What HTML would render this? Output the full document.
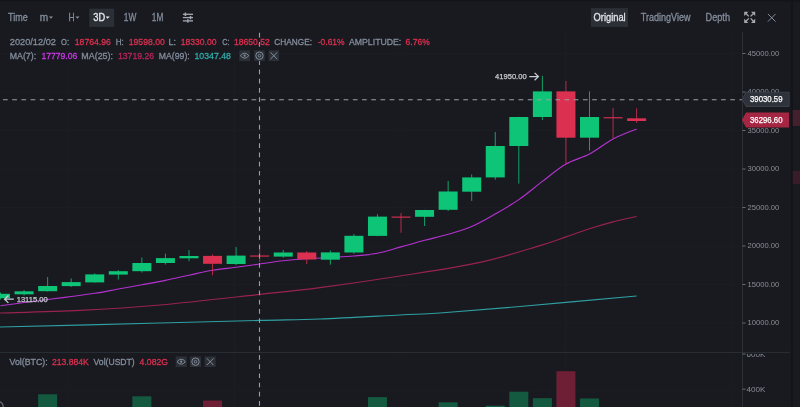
<!DOCTYPE html>
<html><head><meta charset="utf-8">
<style>
html,body{margin:0;padding:0;background:#191a20;width:800px;height:407px;overflow:hidden;}
svg{position:absolute;left:0;top:0;will-change:transform;}
text{font-family:"Liberation Sans",sans-serif;}
.ax{font-size:7.6px;fill:#8a8f98;}
.tb{font-size:10.4px;fill:#848e9c;stroke:#848e9c;stroke-width:0.3px;}
.inf{font-size:9.8px;fill:#848e9c;stroke:#848e9c;stroke-width:0.3px;}
.lb{font-size:8.2px;fill:#ffffff;stroke:#ffffff;stroke-width:0.25px;}
.hl{font-size:7.9px;fill:#c8ccd2;stroke:#c8ccd2;stroke-width:0.25px;}
</style></head><body>
<svg width="800" height="407" viewBox="0 0 800 407">
<rect x="68.50" y="32" width="1" height="375" fill="#1c1d23"/>
<rect x="234.00" y="32" width="1" height="375" fill="#1c1d23"/>
<rect x="399.50" y="32" width="1" height="375" fill="#1c1d23"/>
<rect x="565.00" y="32" width="1" height="375" fill="#1c1d23"/>
<rect x="730.50" y="32" width="1" height="375" fill="#1c1d23"/>
<rect x="0" y="322.50" width="742" height="1" fill="#1c1d23"/>
<rect x="0" y="284.00" width="742" height="1" fill="#1c1d23"/>
<rect x="0" y="245.50" width="742" height="1" fill="#1c1d23"/>
<rect x="0" y="207.00" width="742" height="1" fill="#1c1d23"/>
<rect x="0" y="168.50" width="742" height="1" fill="#1c1d23"/>
<rect x="0" y="130.00" width="742" height="1" fill="#1c1d23"/>
<rect x="0" y="91.50" width="742" height="1" fill="#1c1d23"/>
<rect x="0" y="53.00" width="742" height="1" fill="#1c1d23"/>
<rect x="0" y="390.6" width="742" height="1" fill="#1c1d23"/>
<rect x="38.12" y="394.30" width="19" height="13.70" fill="#145a40"/>
<rect x="132.36" y="396.30" width="19" height="11.70" fill="#145a40"/>
<rect x="203.04" y="400.50" width="19" height="7.50" fill="#6e1f35"/>
<rect x="367.96" y="397.10" width="19" height="10.90" fill="#145a40"/>
<rect x="438.64" y="402.30" width="19" height="5.70" fill="#145a40"/>
<rect x="485.76" y="405.70" width="19" height="2.30" fill="#145a40"/>
<rect x="509.32" y="391.70" width="19" height="16.30" fill="#145a40"/>
<rect x="532.88" y="398.20" width="19" height="9.80" fill="#145a40"/>
<rect x="556.44" y="371.20" width="19" height="36.80" fill="#6e1f35"/>
<rect x="580.00" y="398.50" width="19" height="9.50" fill="#145a40"/>
<path d="M0.00,327.00 C26.67,326.33 116.67,324.10 160.00,323.00 C203.33,321.90 233.33,321.07 260.00,320.40 C286.67,319.73 296.67,319.90 320.00,319.00 C343.33,318.10 380.00,316.00 400.00,315.00 C420.00,314.00 420.00,314.42 440.00,313.00 C460.00,311.58 487.23,309.33 520.00,306.50 C552.77,303.67 617.17,297.75 636.60,296.00" fill="none" stroke="#2e9fa2" stroke-width="1.15"/>
<path d="M0.00,313.00 C13.33,312.57 53.33,311.73 80.00,310.40 C106.67,309.07 130.00,307.67 160.00,305.00 C190.00,302.33 233.33,297.30 260.00,294.40 C286.67,291.50 296.67,290.67 320.00,287.60 C343.33,284.53 373.33,280.20 400.00,276.00 C426.67,271.80 456.67,267.47 480.00,262.40 C503.33,257.33 525.67,249.85 540.00,245.60 C554.33,241.35 557.75,239.71 566.00,236.90 C574.25,234.09 581.67,231.25 589.50,228.75 C597.33,226.25 605.15,223.94 613.00,221.90 C620.85,219.86 632.67,217.40 636.60,216.50" fill="none" stroke="#992250" stroke-width="1.15"/>
<path d="M0.50,305.80 C4.43,305.25 16.21,303.55 24.06,302.50 C31.91,301.45 39.77,300.50 47.62,299.50 C55.47,298.50 63.33,297.53 71.18,296.50 C79.03,295.47 86.89,294.55 94.74,293.30 C102.59,292.05 110.45,290.42 118.30,289.00 C126.15,287.58 134.01,286.23 141.86,284.80 C149.71,283.37 157.57,282.00 165.42,280.40 C173.27,278.80 181.13,276.90 188.98,275.20 C196.83,273.50 204.69,271.52 212.54,270.20 C220.39,268.88 228.25,268.33 236.10,267.30 C243.95,266.27 251.81,265.08 259.66,264.00 C267.51,262.92 275.37,261.67 283.22,260.80 C291.07,259.93 298.93,259.35 306.78,258.80 C314.63,258.25 322.49,257.97 330.34,257.50 C338.19,257.03 346.05,256.70 353.90,256.00 C361.75,255.30 369.61,254.82 377.46,253.30 C385.31,251.78 393.17,249.07 401.02,246.90 C408.87,244.73 416.73,242.40 424.58,240.30 C432.43,238.20 440.29,236.60 448.14,234.30 C455.99,232.00 463.85,229.88 471.70,226.50 C479.55,223.12 487.41,218.48 495.26,214.00 C503.11,209.52 510.97,205.03 518.82,199.60 C526.67,194.17 534.53,187.32 542.38,181.40 C550.23,175.48 558.09,168.67 565.94,164.10 C573.79,159.53 581.65,158.18 589.50,154.00 C597.35,149.82 605.21,143.17 613.06,139.00 C620.91,134.83 632.69,130.67 636.62,129.00" fill="none" stroke="#b432d0" stroke-width="1.15"/>
<rect x="0.00" y="292.50" width="1" height="7.00" fill="#0ec477" fill-opacity="0.8"/>
<rect x="-9.00" y="293.80" width="19" height="4.40" fill="#0ec477"/>
<rect x="23.56" y="290.00" width="1" height="5.50" fill="#0ec477" fill-opacity="0.8"/>
<rect x="14.56" y="291.30" width="19" height="3.00" fill="#0ec477"/>
<rect x="47.12" y="277.00" width="1" height="14.50" fill="#0ec477" fill-opacity="0.8"/>
<rect x="38.12" y="286.00" width="19" height="5.20" fill="#0ec477"/>
<rect x="70.68" y="278.40" width="1" height="8.60" fill="#0ec477" fill-opacity="0.8"/>
<rect x="61.68" y="282.10" width="19" height="4.00" fill="#0ec477"/>
<rect x="94.24" y="273.40" width="1" height="9.20" fill="#0ec477" fill-opacity="0.8"/>
<rect x="85.24" y="274.40" width="19" height="8.00" fill="#0ec477"/>
<rect x="117.80" y="270.00" width="1" height="9.50" fill="#0ec477" fill-opacity="0.8"/>
<rect x="108.80" y="271.20" width="19" height="3.40" fill="#0ec477"/>
<rect x="141.36" y="257.50" width="1" height="15.00" fill="#0ec477" fill-opacity="0.8"/>
<rect x="132.36" y="263.00" width="19" height="8.20" fill="#0ec477"/>
<rect x="164.92" y="253.70" width="1" height="10.80" fill="#0ec477" fill-opacity="0.8"/>
<rect x="155.92" y="258.10" width="19" height="4.90" fill="#0ec477"/>
<rect x="188.48" y="250.00" width="1" height="11.30" fill="#0ec477" fill-opacity="0.8"/>
<rect x="179.48" y="256.00" width="19" height="2.30" fill="#0ec477"/>
<rect x="212.04" y="254.40" width="1" height="20.90" fill="#dc3050" fill-opacity="0.8"/>
<rect x="203.04" y="255.90" width="19" height="7.90" fill="#dc3050"/>
<rect x="235.60" y="247.00" width="1" height="18.00" fill="#0ec477" fill-opacity="0.8"/>
<rect x="226.60" y="255.60" width="19" height="8.40" fill="#0ec477"/>
<rect x="259.16" y="246.00" width="1" height="16.00" fill="#dc3050" fill-opacity="0.8"/>
<rect x="250.16" y="255.35" width="19" height="1.4" fill="#dc3050" fill-opacity="0.8"/>
<rect x="282.72" y="250.00" width="1" height="7.70" fill="#0ec477" fill-opacity="0.8"/>
<rect x="273.72" y="252.50" width="19" height="4.10" fill="#0ec477"/>
<rect x="306.28" y="251.00" width="1" height="13.00" fill="#dc3050" fill-opacity="0.8"/>
<rect x="297.28" y="252.50" width="19" height="7.00" fill="#dc3050"/>
<rect x="329.84" y="250.50" width="1" height="14.20" fill="#0ec477" fill-opacity="0.8"/>
<rect x="320.84" y="252.40" width="19" height="7.30" fill="#0ec477"/>
<rect x="353.40" y="234.00" width="1" height="19.80" fill="#0ec477" fill-opacity="0.8"/>
<rect x="344.40" y="235.80" width="19" height="16.70" fill="#0ec477"/>
<rect x="376.96" y="214.20" width="1" height="22.00" fill="#0ec477" fill-opacity="0.8"/>
<rect x="367.96" y="216.60" width="19" height="19.30" fill="#0ec477"/>
<rect x="400.52" y="213.00" width="1" height="19.70" fill="#dc3050" fill-opacity="0.8"/>
<rect x="391.52" y="216.45" width="19" height="1.4" fill="#dc3050" fill-opacity="0.8"/>
<rect x="424.08" y="209.80" width="1" height="16.20" fill="#0ec477" fill-opacity="0.8"/>
<rect x="415.08" y="210.00" width="19" height="6.80" fill="#0ec477"/>
<rect x="447.64" y="181.00" width="1" height="30.00" fill="#0ec477" fill-opacity="0.8"/>
<rect x="438.64" y="191.50" width="19" height="18.30" fill="#0ec477"/>
<rect x="471.20" y="174.40" width="1" height="26.50" fill="#0ec477" fill-opacity="0.8"/>
<rect x="462.20" y="177.40" width="19" height="14.30" fill="#0ec477"/>
<rect x="494.76" y="132.00" width="1" height="47.70" fill="#0ec477" fill-opacity="0.8"/>
<rect x="485.76" y="146.00" width="19" height="31.40" fill="#0ec477"/>
<rect x="518.32" y="116.80" width="1" height="66.80" fill="#0ec477" fill-opacity="0.8"/>
<rect x="509.32" y="117.00" width="19" height="29.00" fill="#0ec477"/>
<rect x="541.88" y="75.80" width="1" height="44.20" fill="#0ec477" fill-opacity="0.8"/>
<rect x="532.88" y="91.40" width="19" height="25.60" fill="#0ec477"/>
<rect x="565.44" y="81.00" width="1" height="83.50" fill="#dc3050" fill-opacity="0.8"/>
<rect x="556.44" y="91.40" width="19" height="46.30" fill="#dc3050"/>
<rect x="589.00" y="91.40" width="1" height="59.20" fill="#0ec477" fill-opacity="0.8"/>
<rect x="580.00" y="117.00" width="19" height="20.70" fill="#0ec477"/>
<rect x="612.56" y="107.90" width="1" height="30.70" fill="#dc3050" fill-opacity="0.8"/>
<rect x="603.56" y="117.00" width="19" height="1.4" fill="#dc3050" fill-opacity="0.8"/>
<rect x="636.12" y="108.30" width="1" height="14.70" fill="#dc3050" fill-opacity="0.8"/>
<rect x="627.12" y="118.30" width="19" height="2.70" fill="#dc3050"/>
<rect x="0" y="351.9" width="790" height="1" fill="#2b2f36"/>
<path d="M3,99.8 L742,99.8" stroke="#9a9ea6" stroke-width="1.1" stroke-dasharray="4.7 4.506"/>
<path d="M259.5,32.8 L259.5,407" stroke="#9a9ea6" stroke-width="1.1" stroke-dasharray="4.7 4.506"/>
<rect x="742" y="32" width="1" height="375" fill="#2b2f36"/>
<rect x="742.5" y="322.60" width="3" height="0.8" fill="#7d828b"/>
<text x="747.6" y="325.30" class="ax" textLength="31.7" lengthAdjust="spacingAndGlyphs">10000.00</text>
<rect x="742.5" y="284.10" width="3" height="0.8" fill="#7d828b"/>
<text x="747.6" y="286.80" class="ax" textLength="31.7" lengthAdjust="spacingAndGlyphs">15000.00</text>
<rect x="742.5" y="245.60" width="3" height="0.8" fill="#7d828b"/>
<text x="747.6" y="248.30" class="ax" textLength="31.7" lengthAdjust="spacingAndGlyphs">20000.00</text>
<rect x="742.5" y="207.10" width="3" height="0.8" fill="#7d828b"/>
<text x="747.6" y="209.80" class="ax" textLength="31.7" lengthAdjust="spacingAndGlyphs">25000.00</text>
<rect x="742.5" y="168.60" width="3" height="0.8" fill="#7d828b"/>
<text x="747.6" y="171.30" class="ax" textLength="31.7" lengthAdjust="spacingAndGlyphs">30000.00</text>
<rect x="742.5" y="130.10" width="3" height="0.8" fill="#7d828b"/>
<text x="747.6" y="132.80" class="ax" textLength="31.7" lengthAdjust="spacingAndGlyphs">35000.00</text>
<rect x="742.5" y="91.60" width="3" height="0.8" fill="#7d828b"/>
<text x="747.6" y="94.30" class="ax" textLength="31.7" lengthAdjust="spacingAndGlyphs">40000.00</text>
<rect x="742.5" y="53.10" width="3" height="0.8" fill="#7d828b"/>
<text x="747.6" y="55.80" class="ax" textLength="31.7" lengthAdjust="spacingAndGlyphs">45000.00</text>
<rect x="742.5" y="353.6" width="3" height="0.8" fill="#7d828b"/>
<rect x="742.5" y="388.7" width="3" height="0.8" fill="#7d828b"/>
<text x="746.5" y="392.2" class="ax" textLength="18.9" lengthAdjust="spacingAndGlyphs">400K</text>
<svg x="0" y="353.9" width="800" height="60" overflow="hidden"><text x="746.5" y="2.9" class="ax" textLength="18.9" lengthAdjust="spacingAndGlyphs">600K</text></svg>
<rect x="0" y="0" width="800" height="1.5" fill="#131418"/>
<rect x="89.3" y="8.6" width="24.9" height="18.3" fill="#2b2f36"/>
<rect x="590.9" y="8.1" width="37.1" height="18.8" fill="#2b2f36"/>
<text x="8.10" y="21.00" class="tb" textLength="19.65" lengthAdjust="spacingAndGlyphs">Time</text>
<text x="39.75" y="21.00" class="tb" textLength="8.45" lengthAdjust="spacingAndGlyphs">m</text>
<path d="M48.90,16.40 L53.00,16.40 L50.95,18.80 Z" fill="#848e9c"/>
<text x="68.50" y="21.00" class="tb" textLength="6.10" lengthAdjust="spacingAndGlyphs">H</text>
<path d="M75.40,16.40 L79.50,16.40 L77.45,18.80 Z" fill="#848e9c"/>
<text x="93.30" y="21.00" class="tb" style="fill:#eaecef;stroke:#eaecef" textLength="11.90" lengthAdjust="spacingAndGlyphs">3D</text>
<path d="M105.60,16.40 L109.70,16.40 L107.65,18.80 Z" fill="#eaecef"/>
<text x="123.80" y="21.00" class="tb" textLength="12.50" lengthAdjust="spacingAndGlyphs">1W</text>
<text x="151.80" y="21.00" class="tb" textLength="11.50" lengthAdjust="spacingAndGlyphs">1M</text>
<rect x="182.9" y="13.65" width="10.1" height="1.3" fill="#a2a7af"/>
<rect x="184.65" y="12.60" width="1.5" height="3.4" fill="#a2a7af"/>
<rect x="182.9" y="16.95" width="10.1" height="1.3" fill="#a2a7af"/>
<rect x="189.75" y="15.90" width="1.5" height="3.4" fill="#a2a7af"/>
<rect x="182.9" y="20.25" width="10.1" height="1.3" fill="#a2a7af"/>
<rect x="187.05" y="19.20" width="1.5" height="3.4" fill="#a2a7af"/>
<text x="593.50" y="21.00" class="tb" style="fill:#e2e4e8;stroke:#e2e4e8" textLength="32.20" lengthAdjust="spacingAndGlyphs">Original</text>
<text x="640.80" y="21.00" class="tb" textLength="49.70" lengthAdjust="spacingAndGlyphs">TradingView</text>
<text x="705.50" y="21.00" class="tb" textLength="24.50" lengthAdjust="spacingAndGlyphs">Depth</text>
<g fill="#a4a9b1" stroke="#a4a9b1" stroke-width="1.3">
<path d="M745.70,13.30 L748.80,16.40" fill="none"/>
<path d="M744.20,11.80 L748.40,11.80 L744.20,16.00 Z" stroke="none"/>
<path d="M753.70,13.30 L750.60,16.40" fill="none"/>
<path d="M755.20,11.80 L751.00,11.80 L755.20,16.00 Z" stroke="none"/>
<path d="M745.70,21.50 L748.80,18.40" fill="none"/>
<path d="M744.20,23.00 L748.40,23.00 L744.20,18.80 Z" stroke="none"/>
<path d="M753.70,21.50 L750.60,18.40" fill="none"/>
<path d="M755.20,23.00 L751.00,23.00 L755.20,18.80 Z" stroke="none"/>
</g>
<path d="M767.9,13.9 L775.6,21.6 M775.6,13.9 L767.9,21.6" stroke="#848e9c" stroke-width="1" fill="none"/>
<rect x="790.9" y="0" width="2" height="407" fill="#131419"/>
<path d="M3.2,407 A5,5 0 0 0 -2,401.6" fill="none" stroke="#6b7079" stroke-width="1.2"/>
<rect x="792.7" y="110" width="7.3" height="16" fill="#43202c"/>
<rect x="792.7" y="171" width="7.3" height="13" fill="#381d28"/>
<text x="9.75" y="45.40" class="inf" textLength="46.25" lengthAdjust="spacingAndGlyphs">2020/12/02</text>
<text x="61.00" y="45.40" class="inf" textLength="8.00" lengthAdjust="spacingAndGlyphs">O:</text>
<text x="74.80" y="45.40" class="inf" style="fill:#dc3050;stroke:#dc3050" textLength="36.10" lengthAdjust="spacingAndGlyphs">18764.96</text>
<text x="115.70" y="45.40" class="inf" textLength="8.10" lengthAdjust="spacingAndGlyphs">H:</text>
<text x="128.70" y="45.40" class="inf" style="fill:#dc3050;stroke:#dc3050" textLength="36.10" lengthAdjust="spacingAndGlyphs">19598.00</text>
<text x="168.50" y="45.40" class="inf" textLength="7.40" lengthAdjust="spacingAndGlyphs">L:</text>
<text x="180.70" y="45.40" class="inf" style="fill:#dc3050;stroke:#dc3050" textLength="35.80" lengthAdjust="spacingAndGlyphs">18330.00</text>
<text x="222.20" y="45.40" class="inf" textLength="7.30" lengthAdjust="spacingAndGlyphs">C:</text>
<text x="234.00" y="45.40" class="inf" style="fill:#dc3050;stroke:#dc3050" textLength="35.80" lengthAdjust="spacingAndGlyphs">18650.52</text>
<text x="274.20" y="45.40" class="inf" textLength="37.80" lengthAdjust="spacingAndGlyphs">CHANGE:</text>
<text x="317.80" y="45.40" class="inf" style="fill:#dc3050;stroke:#dc3050" textLength="26.80" lengthAdjust="spacingAndGlyphs">-0.61%</text>
<text x="349.00" y="45.40" class="inf" textLength="52.25" lengthAdjust="spacingAndGlyphs">AMPLITUDE:</text>
<text x="405.60" y="45.40" class="inf" style="fill:#dc3050;stroke:#dc3050" textLength="24.15" lengthAdjust="spacingAndGlyphs">6.76%</text>
<text x="9.75" y="58.50" class="inf" textLength="26.35" lengthAdjust="spacingAndGlyphs">MA(7):</text>
<text x="41.50" y="58.50" class="inf" style="fill:#cf35ea;stroke:#cf35ea" textLength="35.70" lengthAdjust="spacingAndGlyphs">17779.06</text>
<text x="81.30" y="58.50" class="inf" textLength="31.70" lengthAdjust="spacingAndGlyphs">MA(25):</text>
<text x="118.00" y="58.50" class="inf" style="fill:#b8245a;stroke:#b8245a" textLength="36.00" lengthAdjust="spacingAndGlyphs">13719.26</text>
<text x="158.80" y="58.50" class="inf" textLength="30.90" lengthAdjust="spacingAndGlyphs">MA(99):</text>
<text x="194.50" y="58.50" class="inf" style="fill:#30aaa8;stroke:#30aaa8" textLength="36.50" lengthAdjust="spacingAndGlyphs">10347.48</text>
<rect x="239.20" y="50.30" width="10.80" height="10.80" fill="#2b2f36"/>
<path d="M240.40,55.70 Q244.60,50.70 248.80,55.70 Q244.60,60.70 240.40,55.70 Z" fill="none" stroke="#848e9c" stroke-width="1"/>
<circle cx="244.60" cy="55.70" r="1.1" fill="#848e9c"/>
<rect x="254.20" y="50.30" width="10.50" height="10.80" fill="#2b2f36"/>
<circle cx="259.45" cy="55.70" r="3.7" fill="none" stroke="#848e9c" stroke-width="1"/>
<circle cx="259.45" cy="55.70" r="1.3" fill="none" stroke="#848e9c" stroke-width="0.9"/>
<rect x="268.60" y="50.30" width="10.50" height="10.80" fill="#2b2f36"/>
<path d="M270.45,52.30 L277.25,59.10 M277.25,52.30 L270.45,59.10" stroke="#848e9c" stroke-width="1" fill="none"/>
<text x="9.50" y="365.20" class="inf" textLength="38.20" lengthAdjust="spacingAndGlyphs">Vol(BTC):</text>
<text x="51.90" y="365.20" class="inf" style="fill:#dc3050;stroke:#dc3050" textLength="37.00" lengthAdjust="spacingAndGlyphs">213.884K</text>
<text x="93.60" y="365.20" class="inf" textLength="41.10" lengthAdjust="spacingAndGlyphs">Vol(USDT)</text>
<text x="139.60" y="365.20" class="inf" style="fill:#dc3050;stroke:#dc3050" textLength="28.40" lengthAdjust="spacingAndGlyphs">4.082G</text>
<rect x="175.70" y="356.40" width="11.00" height="10.60" fill="#2b2f36"/>
<path d="M177.00,361.70 Q181.20,356.70 185.40,361.70 Q181.20,366.70 177.00,361.70 Z" fill="none" stroke="#848e9c" stroke-width="1"/>
<circle cx="181.20" cy="361.70" r="1.1" fill="#848e9c"/>
<rect x="190.00" y="356.40" width="11.00" height="10.60" fill="#2b2f36"/>
<circle cx="195.50" cy="361.70" r="3.7" fill="none" stroke="#848e9c" stroke-width="1"/>
<circle cx="195.50" cy="361.70" r="1.3" fill="none" stroke="#848e9c" stroke-width="0.9"/>
<rect x="204.60" y="356.40" width="11.10" height="10.60" fill="#2b2f36"/>
<path d="M206.75,358.30 L213.55,365.10 M213.55,358.30 L206.75,365.10" stroke="#848e9c" stroke-width="1" fill="none"/>
<path d="M742.2,99.3 L746,92.2 L789.1,92.2 L789.1,106.5 L746,106.5 Z" fill="#2e323a" stroke="#41464f" stroke-width="0.8"/>
<text x="750" y="101.8" class="lb" textLength="32.5" lengthAdjust="spacingAndGlyphs">39030.59</text>
<path d="M741.9,120.1 L746,112.6 L789.1,112.6 L789.1,127.5 L746,127.5 Z" fill="#a52642"/>
<text x="750" y="122.8" class="lb" textLength="32.5" lengthAdjust="spacingAndGlyphs">36296.60</text>
<text x="495.1" y="78.9" class="hl" textLength="31.5" lengthAdjust="spacingAndGlyphs">41950.00</text>
<path d="M529.3,76.6 L537.8,76.6 M534.6,72.9 L538.4,76.6 L534.6,80.3" stroke="#c8ccd2" stroke-width="1.3" fill="none"/>
<text x="16.7" y="301.6" class="hl" textLength="31" lengthAdjust="spacingAndGlyphs">13115.00</text>
<path d="M5,299.2 L13.8,299.2 M8.4,295.5 L4.6,299.2 L8.4,302.9" stroke="#c8ccd2" stroke-width="1.3" fill="none"/>
</svg>
</body></html>
